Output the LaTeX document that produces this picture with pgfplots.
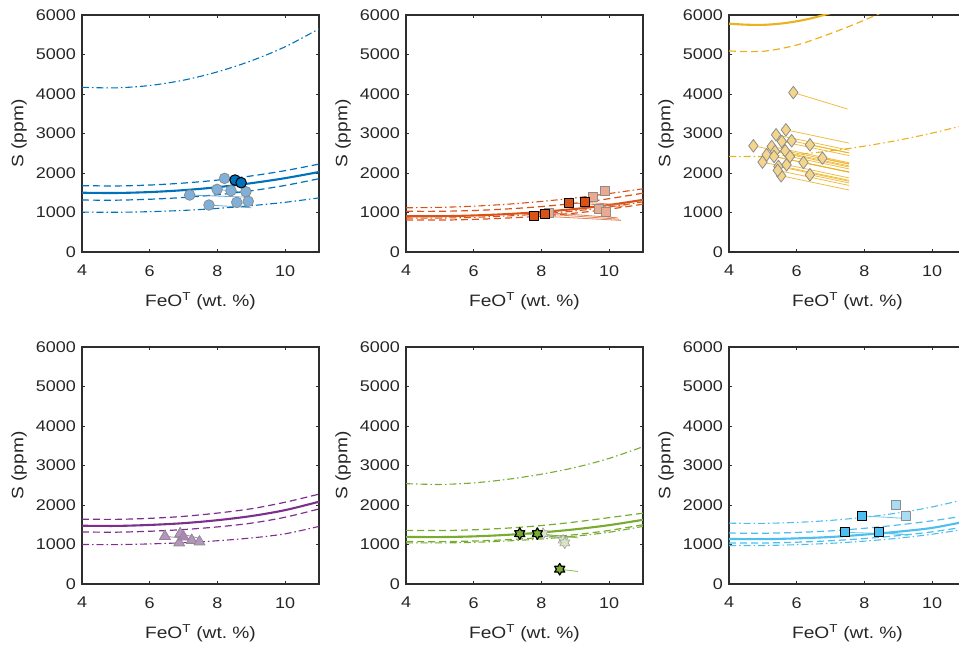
\documentclass[border=0pt]{standalone}
\usepackage{fontspec}
\setmainfont{Liberation Sans}[FakeStretch=1.16]
\usepackage{pgfplots}
\pgfplotsset{compat=1.18}
\usetikzlibrary{plotmarks}

\definecolor{axgray}{HTML}{2E2E2E}
\definecolor{labgray}{HTML}{262626}
\definecolor{cB}{HTML}{0072BD}
\definecolor{cBl}{HTML}{80B0DA}
\definecolor{cO}{HTML}{D95319}
\definecolor{cOl}{HTML}{EBAA90}
\definecolor{cY}{HTML}{EDB120}
\definecolor{cYl}{HTML}{F4D58C}
\definecolor{cP}{HTML}{7E2F8E}
\definecolor{cPl}{HTML}{B595C0}
\definecolor{cG}{HTML}{77AC30}
\definecolor{cC}{HTML}{4DBEEE}
\definecolor{cCl}{HTML}{A8DCF4}
\definecolor{mkedge}{HTML}{8C8C8C}

\pgfdeclareplotmark{hexagram}{%
  \pgfpathmoveto{\pgfqpoint{0pt}{\pgfplotmarksize}}%
  \pgfpathlineto{\pgfqpoint{0.2887\pgfplotmarksize}{0.5\pgfplotmarksize}}%
  \pgfpathlineto{\pgfqpoint{0.866\pgfplotmarksize}{0.5\pgfplotmarksize}}%
  \pgfpathlineto{\pgfqpoint{0.577\pgfplotmarksize}{0pt}}%
  \pgfpathlineto{\pgfqpoint{0.866\pgfplotmarksize}{-0.5\pgfplotmarksize}}%
  \pgfpathlineto{\pgfqpoint{0.2887\pgfplotmarksize}{-0.5\pgfplotmarksize}}%
  \pgfpathlineto{\pgfqpoint{0pt}{-\pgfplotmarksize}}%
  \pgfpathlineto{\pgfqpoint{-0.2887\pgfplotmarksize}{-0.5\pgfplotmarksize}}%
  \pgfpathlineto{\pgfqpoint{-0.866\pgfplotmarksize}{-0.5\pgfplotmarksize}}%
  \pgfpathlineto{\pgfqpoint{-0.577\pgfplotmarksize}{0pt}}%
  \pgfpathlineto{\pgfqpoint{-0.866\pgfplotmarksize}{0.5\pgfplotmarksize}}%
  \pgfpathlineto{\pgfqpoint{-0.2887\pgfplotmarksize}{0.5\pgfplotmarksize}}%
  \pgfpathclose
  \pgfusepathqfillstroke
}

\pgfplotsset{
  panel/.style={
    scale only axis, width=237pt, height=237pt,
    xmin=4, xmax=11, ymin=0, ymax=6000,
    xtick={4,6,8,10}, ytick={0,1000,2000,3000,4000,5000,6000},
    scaled ticks=false,
    tick align=inside, major tick length=3pt,
    axis line style={line width=1.7pt, draw=axgray},
    tick style={line width=0.8pt, draw=axgray},
    /pgf/number format/assume math mode=true,
    /pgf/number format/1000 sep={},
    tick label style={font=\fontsize{15.5}{18}\selectfont, text=labgray},
    every x tick label/.append style={inner sep=0pt, yshift=-13pt},
    every y tick label/.append style={inner sep=0pt, xshift=-6pt},
    xlabel={FeO\textsuperscript{T} (wt.\ \%)},
    ylabel={S (ppm)},
    label style={font=\fontsize{16.5}{20}\selectfont, text=labgray, inner sep=0pt},
    xlabel style={at={(axis description cs:0.5,0)}, anchor=base, yshift=-55pt},
    ylabel style={at={(axis description cs:-0.232,0.5)}, anchor=south},
    every axis plot/.append style={line join=round},
  },
  solidc/.style={line width=2.1pt, smooth},
  dashc/.style={line width=1.2pt, smooth, dash pattern=on 7pt off 4pt},
  ddc/.style={line width=1.1pt, smooth, dash pattern=on 7pt off 3pt on 1.5pt off 3pt},
  tie/.style={line width=0.8pt, opacity=0.85},
}

\begin{document}
\begin{tikzpicture}
% ---------------- Panel 1 (blue) ----------------
\begin{axis}[panel, at={(82pt,395pt)}, anchor=south west]
\addplot[cB, solidc] coordinates {(4,1500)(5,1494)(6,1517)(7,1565)(8,1640)(9,1742)(10,1869)(11,2025)};
\addplot[cB, dashc] coordinates {(4,1680)(5,1672)(6,1695)(7,1745)(8,1820)(9,1925)(10,2060)(11,2225)};
\addplot[cB, dashc] coordinates {(4,1315)(5,1312)(6,1335)(7,1380)(8,1450)(9,1550)(10,1685)(11,1855)};
\addplot[cB, ddc] coordinates {(4,4170)(5,4155)(6,4215)(7,4350)(8,4560)(9,4840)(10,5195)(11,5650)};
\addplot[cB, ddc] coordinates {(4,1010)(5,1006)(6,1021)(7,1053)(8,1104)(9,1173)(10,1258)(11,1370)};
\addplot[cB!70!white, tie] coordinates {(7.18,1442)(8.95,1385)};
\addplot[cB!70!white, tie] coordinates {(7.75,1189)(9.0,1120)};
\addplot[cB!70!white, tie] coordinates {(8.57,1257)(9.0,1215)};
\addplot[cB!70!white, tie] coordinates {(7.99,1586)(8.9,1500)};
\addplot[only marks, mark=*, mark size=5.3pt, mark options={fill=cBl, draw=mkedge, line width=0.8pt}] coordinates {
(8.21,1864)(7.18,1442)(7.99,1586)(8.40,1551)(8.84,1526)(7.75,1189)(8.57,1257)(8.91,1283)};
\addplot[only marks, mark=*, mark size=5.3pt, mark options={fill=cB, draw=black, line width=1pt}] coordinates {
(8.52,1822)(8.70,1754)};
\end{axis}

% ---------------- Panel 2 (orange) ----------------
\begin{axis}[panel, at={(406pt,395pt)}, anchor=south west]
\addplot[cO, solidc] coordinates {(4,905)(5,905)(6,925)(7,960)(8,1015)(9,1090)(10,1190)(11,1320)};
\addplot[cO, dashc] coordinates {(4,1030)(5,1030)(6,1050)(7,1090)(8,1150)(9,1235)(10,1350)(11,1490)};
\addplot[cO, dashc] coordinates {(4,810)(5,808)(6,825)(7,860)(8,910)(9,985)(10,1085)(11,1210)};
\addplot[cO, ddc] coordinates {(4,1120)(5,1130)(6,1160)(7,1210)(8,1280)(9,1370)(10,1480)(11,1600)};
\addplot[cO, ddc] coordinates {(4,860)(5,858)(6,877)(7,912)(8,965)(9,1040)(10,1140)(11,1270)};
\addplot[cO!85!white, tie] coordinates {(7.78,918)(10.35,800)};
\addplot[cO!85!white, tie] coordinates {(8.12,961)(10.3,830)};
\addplot[cO!85!white, tie] coordinates {(8.22,995)(10.25,865)};
\addplot[cO!85!white, tie] coordinates {(8.82,1248)(10.4,1150)};
\addplot[cO!85!white, tie] coordinates {(9.29,1257)(10.5,1185)};
\addplot[only marks, mark=square*, mark size=4.5pt, mark options={fill=cOl, draw=mkedge, line width=0.8pt}] coordinates {
(8.22,995)(9.51,1384)(9.88,1552)(9.69,1096)(9.91,1012)};
\addplot[only marks, mark=square*, mark size=4.5pt, mark options={fill=cO, draw=black, line width=1pt}] coordinates {
(7.78,918)(8.12,961)(8.82,1248)(9.29,1257)};
\end{axis}

% ---------------- Panel 3 (yellow) ----------------
\begin{axis}[panel, at={(729pt,395pt)}, anchor=south west]
\addplot[cY, solidc] coordinates {(4,5780)(4.5,5755)(5,5750)(5.5,5780)(6,5840)(6.5,5930)(7,6050)};
\addplot[cY, dashc] coordinates {(4,5090)(5,5080)(6,5240)(7,5530)(8,5870)(9,6250)};
\addplot[cY, ddc] coordinates {(4,2420)(5,2420)(6,2470)(7,2560)(8,2680)(9,2830)(10,3010)(11,3220)};
\addplot[cY, tie] coordinates {(5.90,4036)(7.5,3620)};
\addplot[cY, tie] coordinates {(4.72,2688)(7.55,2179)};
\addplot[cY, tie] coordinates {(4.99,2275)(7.55,1814)};
\addplot[cY, tie] coordinates {(5.11,2461)(7.55,2022)};
\addplot[cY, tie] coordinates {(5.26,2671)(7.55,2259)};
\addplot[cY, tie] coordinates {(5.36,2545)(7.55,2151)};
\addplot[cY, tie] coordinates {(5.39,2966)(7.55,2577)};
\addplot[cY, tie] coordinates {(5.33,2418)(7.55,2018)};
\addplot[cY, tie] coordinates {(5.46,2166)(7.55,1790)};
\addplot[cY, tie] coordinates {(5.54,1930)(7.55,1568)};
\addplot[cY, tie] coordinates {(5.56,2798)(7.55,2440)};
\addplot[cY, tie] coordinates {(5.68,3093)(7.55,2756)};
\addplot[cY, tie] coordinates {(5.66,2562)(7.55,2222)};
\addplot[cY, tie] coordinates {(5.70,2208)(7.55,1875)};
\addplot[cY, tie] coordinates {(5.80,2418)(7.55,2103)};
\addplot[cY, tie] coordinates {(5.85,2815)(7.55,2509)};
\addplot[cY, tie] coordinates {(6.20,2267)(7.55,2024)};
\addplot[cY, tie] coordinates {(6.39,2713)(7.55,2504)};
\addplot[cY, tie] coordinates {(6.39,1955)(7.55,1746)};
\addplot[cY, tie] coordinates {(6.76,2376)(7.55,2234)};
\addplot[cY, tie] coordinates {(5.44,2065)(7.55,1685)};
\addplot[only marks, mark=diamond*, mark size=6.3pt, mark options={fill=cYl, draw=mkedge, line width=0.8pt}] coordinates {
(5.90,4036)(4.72,2688)(4.99,2275)(5.11,2461)(5.26,2671)(5.36,2545)(5.39,2966)(5.33,2418)
(5.46,2166)(5.54,1930)(5.56,2798)(5.68,3093)(5.66,2562)(5.70,2208)(5.80,2418)(5.85,2815)
(6.20,2267)(6.39,2713)(6.39,1955)(6.76,2376)(5.44,2065)};
\end{axis}

% ---------------- Panel 4 (purple) ----------------
\begin{axis}[panel, at={(82pt,63pt)}, anchor=south west]
\addplot[cP, solidc] coordinates {(4,1475)(5,1470)(6,1495)(7,1540)(8,1615)(9,1720)(10,1870)(11,2083)};
\addplot[cP, dashc] coordinates {(4,1642)(5,1636)(6,1662)(7,1712)(8,1795)(9,1905)(10,2070)(11,2275)};
\addplot[cP, dashc] coordinates {(4,1317)(5,1312)(6,1335)(7,1378)(8,1445)(9,1540)(10,1690)(11,1900)};
\addplot[cP, ddc] coordinates {(4,1000)(5,997)(6,1015)(7,1045)(8,1095)(9,1165)(10,1270)(11,1458)};
\addplot[cP!70!white, tie] coordinates {(6.45,1208)(7.2,1140)};
\addplot[cP!70!white, tie] coordinates {(6.90,1275)(7.5,1150)};
\addplot[only marks, mark=triangle*, mark size=6.3pt, mark options={fill=cPl, draw=mkedge, line width=0.8pt}] coordinates {
(6.45,1208)(6.90,1275)(6.87,1042)(7.24,1108)(7.47,1067)};
\addplot[only marks, mark=triangle*, mark size=6.3pt, mark options={fill=cP!60!white, draw=mkedge, line width=0.8pt}] coordinates {
(7.0,1192)};
\end{axis}

% ---------------- Panel 5 (green) ----------------
\begin{axis}[panel, at={(406pt,63pt)}, anchor=south west]
\addplot[cG, solidc] coordinates {(4,1192)(5,1188)(6,1205)(7,1245)(8,1305)(9,1385)(10,1490)(11,1625)};
\addplot[cG, dashc] coordinates {(4,1358)(5,1352)(6,1372)(7,1415)(8,1480)(9,1570)(10,1680)(11,1792)};
\addplot[cG, dashc] coordinates {(4,1075)(5,1072)(6,1088)(7,1122)(8,1175)(9,1250)(10,1355)(11,1500)};
\addplot[cG, ddc] coordinates {(4,1042)(5,1040)(6,1055)(7,1090)(8,1140)(9,1210)(10,1310)(11,1458)};
\addplot[cG, ddc] coordinates {(4,2540)(5,2520)(6,2560)(7,2650)(8,2780)(9,2950)(10,3180)(11,3475)};
\addplot[cG, tie] coordinates {(7.88,1275)(9.08,1167)};
\addplot[cG, tie] coordinates {(7.36,1275)(9.0,1200)};
\addplot[cG, tie] coordinates {(8.54,375)(9.08,317)};
\addplot[gray!60, tie] coordinates {(8.05,1275)(8.7,1150)};
\addplot[only marks, mark=hexagram, mark size=5.8pt, mark options={fill=white!70!cG, draw=gray!70, line width=0.7pt}] coordinates {
(8.05,1275)(8.64,1108)(8.69,1042)};
\addplot[only marks, mark=hexagram, mark size=5.8pt, mark options={fill=cG, draw=black, line width=1.2pt}] coordinates {
(7.36,1275)(7.88,1275)(8.54,375)};
\end{axis}

% ---------------- Panel 6 (cyan) ----------------
\begin{axis}[panel, at={(729pt,63pt)}, anchor=south west]
\addplot[cC, solidc] coordinates {(4,1140)(5,1135)(6,1155)(7,1190)(8,1250)(9,1325)(10,1420)(11,1585)};
\addplot[cC, dashc] coordinates {(4,1290)(5,1285)(6,1305)(7,1345)(8,1410)(9,1495)(10,1600)(11,1730)};
\addplot[cC, dashc] coordinates {(4,1040)(5,1038)(6,1058)(7,1095)(8,1150)(9,1225)(10,1320)(11,1450)};
\addplot[cC, ddc] coordinates {(4,1540)(5,1535)(6,1560)(7,1610)(8,1690)(9,1800)(10,1950)(11,2150)};
\addplot[cC, ddc] coordinates {(4,975)(5,975)(6,995)(7,1030)(8,1085)(9,1160)(10,1260)(11,1390)};
\addplot[cC, tie] coordinates {(7.93,1725)(9.22,1660)};
\addplot[cC, tie] coordinates {(8.42,1308)(9.3,1235)};
\addplot[cC, tie] coordinates {(7.42,1308)(9.2,1260)};
\addplot[only marks, mark=square*, mark size=4.5pt, mark options={fill=cCl, draw=mkedge, line width=0.8pt}] coordinates {
(8.92,2000)(9.22,1733)};
\addplot[only marks, mark=square*, mark size=4.5pt, mark options={fill=cC, draw=black, line width=1pt}] coordinates {
(7.42,1308)(7.93,1725)(8.42,1308)};
\end{axis}

\pgfresetboundingbox
\path[use as bounding box] (0,0) rectangle (959pt,647pt);
\end{tikzpicture}
\end{document}
